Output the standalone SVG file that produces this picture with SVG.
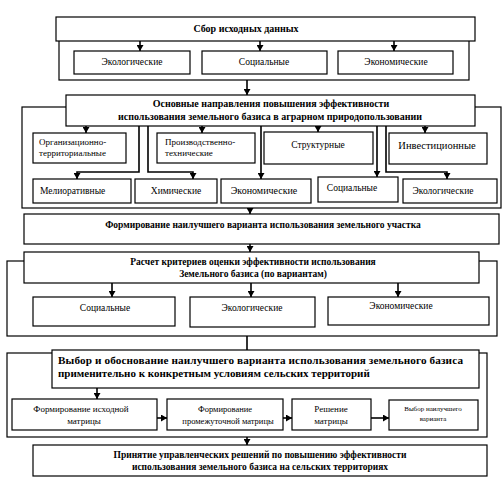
<svg xmlns="http://www.w3.org/2000/svg" width="502" height="484" viewBox="0 0 502 484">
<defs>
<marker id="ah" markerUnits="userSpaceOnUse" markerWidth="7" markerHeight="7" refX="6" refY="3.5" orient="auto">
<path d="M0,0 L6,3.5 L0,7 z" fill="#000"/>
</marker>
<style>
rect{fill:#fff;stroke:#000;stroke-width:1.2}
.l{fill:none;stroke:#000;stroke-width:1.6}
.a{fill:none;stroke:#000;stroke-width:1.6;marker-end:url(#ah)}
text{font-family:"Liberation Serif","Times New Roman",serif;fill:#000}
.b{font-weight:bold;font-size:10px;text-anchor:middle}
.n{font-size:9.5px;text-anchor:middle}
.s{font-size:9px}
</style>
</defs>
<rect width="502" height="484" style="fill:#fff;stroke:none"/>

<g id="containers">
<rect x="59" y="30" width="410" height="50"/>
<rect x="22" y="107" width="479" height="101"/>
<rect x="7" y="261" width="490" height="75"/>
<rect x="7" y="353" width="480" height="84"/>
</g>

<g id="connectors">
<path class="a" d="M247,80 V95"/>
<path class="a" d="M140,41 V51"/>
<path class="a" d="M260,41 V51"/>
<path class="a" d="M394,41 V51"/>
<path class="a" d="M86,126 V133"/>
<path class="a" d="M202,126 V133"/>
<path class="a" d="M318,126 V132"/>
<path class="a" d="M425,126 V133"/>
<path class="a" d="M139,126 V172 H77 V179"/>
<path class="a" d="M148,126 V172 H193 V179"/>
<path class="a" d="M261,126 V179"/>
<path class="a" d="M377,126 V177"/>
<path class="a" d="M386,126 V172 H447 V179"/>
<path class="a" d="M250,208 V214"/>
<path class="a" d="M250,244 V252"/>
<path class="a" d="M112,283 V297"/>
<path class="a" d="M251,283 V297"/>
<path class="a" d="M398,283 V297"/>
<path class="l" d="M247,336 V350"/>
<path class="a" d="M97,388 V399"/>
<path class="a" d="M157,418 H167"/>
<path class="a" d="M283,418 H292"/>
<path class="a" d="M371,418 H389"/>
<path class="a" d="M247,437 V445"/>
</g>

<g id="n-sbor">
<rect x="56" y="17" width="419" height="24"/>
<text class="b" x="246" y="32">Сбор исходных данных</text>
</g>
<g id="n-sbor-eco">
<rect x="74" y="51" width="116" height="23"/>
<text class="n" x="132" y="65">Экологические</text>
</g>
<g id="n-sbor-soc">
<rect x="202" y="51" width="125" height="23"/>
<text class="n" x="264" y="65">Социальные</text>
</g>
<g id="n-sbor-econ">
<rect x="338" y="51" width="115" height="23"/>
<text class="n" x="396" y="65">Экономические</text>
</g>

<g id="n-main">
<rect x="66" y="95" width="409" height="31"/>
<text class="b" x="271" y="107">Основные направления повышения эффективности</text>
<text class="b" x="270" y="120">использования земельного базиса в аграрном природопользовании</text>
</g>
<g id="n-org">
<rect x="33" y="133" width="93" height="30"/>
<text class="s" x="39" y="145">Организационно-</text>
<text class="s" x="39" y="156">территориальные</text>
</g>
<g id="n-proizv">
<rect x="157" y="133" width="98" height="30"/>
<text class="s" x="165" y="145">Производственно-</text>
<text class="s" x="165" y="156">технические</text>
</g>
<g id="n-struct">
<rect x="264" y="132" width="109" height="32"/>
<text class="n" x="318" y="148">Структурные</text>
</g>
<g id="n-invest">
<rect x="389" y="133" width="98" height="31"/>
<text class="n" x="437" y="149" style="font-size:10.5px">Инвестиционные</text>
</g>
<g id="n-melior">
<rect x="33" y="179" width="98" height="24"/>
<text class="s" x="40" y="194" style="font-size:9.5px">Мелиоративные</text>
</g>
<g id="n-chem">
<rect x="135" y="179" width="82" height="24"/>
<text class="n" x="176" y="194">Химические</text>
</g>
<g id="n-econ2">
<rect x="221" y="179" width="90" height="24"/>
<text class="n" x="264" y="194" style="font-size:10px">Экономические</text>
</g>
<g id="n-soc2">
<rect x="318" y="177" width="80" height="25"/>
<text class="n" x="352" y="191">Социальные</text>
</g>
<g id="n-eco2">
<rect x="403" y="179" width="94" height="24"/>
<text class="n" x="443" y="194">Экологические</text>
</g>

<g id="n-form">
<rect x="24" y="214" width="475" height="30"/>
<text class="b" x="263" y="228" style="font-size:9.5px">Формирование наилучшего варианта использования земельного участка</text>
</g>

<g id="n-raschet">
<rect x="24" y="252" width="455" height="31"/>
<text class="b" x="253" y="265" style="font-size:9.5px">Расчет критериев оценки эффективности использования</text>
<text class="b" x="253" y="277" style="font-size:9.5px">Земельного базиса (по вариантам)</text>
</g>
<g id="n-r-soc">
<rect x="33" y="297" width="142" height="29"/>
<text class="n" x="105" y="311">Социальные</text>
</g>
<g id="n-r-eco">
<rect x="190" y="297" width="125" height="30"/>
<text class="n" x="252" y="311">Экологические</text>
</g>
<g id="n-r-econ">
<rect x="328" y="297" width="161" height="28"/>
<text class="n" x="401" y="309">Экономические</text>
</g>

<g id="n-vybor">
<rect x="52" y="350" width="427" height="38"/>
<text x="58" y="364" style="font-weight:bold;font-size:11.2px" textLength="405" lengthAdjust="spacing">Выбор и обоснование наилучшего варианта использования земельного базиса</text>
<text x="58" y="377" style="font-weight:bold;font-size:11px">применительно к конкретным условиям сельских территорий</text>
</g>
<g id="n-m1">
<rect x="12" y="399" width="145" height="31"/>
<text class="n" x="81" y="412" style="font-size:9px">Формирование исходной</text>
<text class="n" x="84" y="424" style="font-size:9px">матрицы</text>
</g>
<g id="n-m2">
<rect x="167" y="399" width="116" height="31"/>
<text class="n" x="225" y="412" style="font-size:8.5px">Формирование</text>
<text class="n" x="228" y="424" style="font-size:8.5px">промежуточной матрицы</text>
</g>
<g id="n-m3">
<rect x="292" y="399" width="79" height="31"/>
<text class="n" x="331" y="412" style="font-size:9px">Решение</text>
<text class="n" x="331" y="424" style="font-size:9px">матрицы</text>
</g>
<g id="n-m4">
<rect x="389" y="400" width="89" height="30"/>
<text class="n" x="433" y="411" style="font-size:7px">Выбор наилучшего</text>
<text class="n" x="433" y="421" style="font-size:7px">варианта</text>
</g>

<g id="n-final">
<rect x="33" y="445" width="454" height="31"/>
<text class="b" x="260" y="458" style="font-size:9.5px">Принятие управленческих решений по повышению эффективности</text>
<text class="b" x="260" y="470" style="font-size:9.5px">использования земельного базиса на сельских территориях</text>
</g>
</svg>
